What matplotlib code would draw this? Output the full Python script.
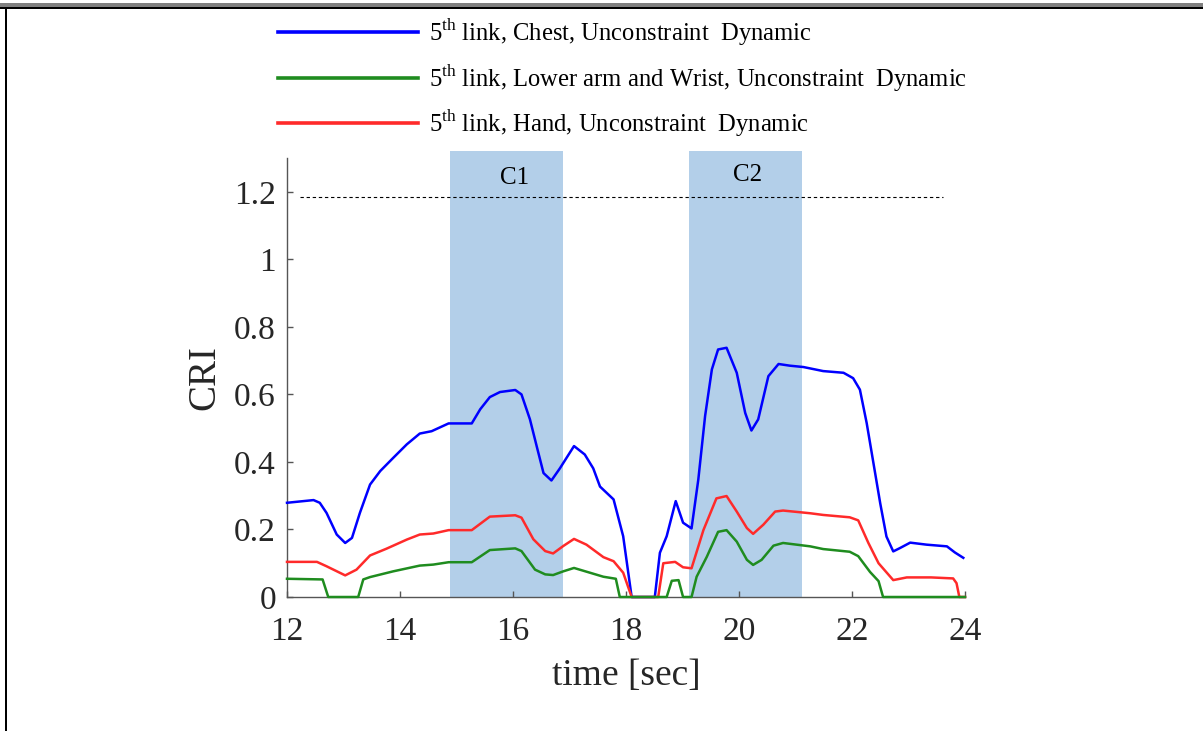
import matplotlib
matplotlib.use("Agg")
import matplotlib.pyplot as plt
from matplotlib.patches import Rectangle

# ── data ────────────────────────────────────────────────────────────────────

t_chest = [12.0, 12.47, 12.58, 12.70, 12.88, 13.03, 13.15, 13.29, 13.47, 13.65,
           13.88, 14.12, 14.35, 14.56, 14.86, 15.27, 15.42, 15.59, 15.77, 16.04,
           16.15, 16.30, 16.42, 16.54, 16.68, 16.83, 17.08, 17.27, 17.42, 17.54,
           17.78, 17.95, 18.10, 18.51, 18.60, 18.72, 18.88, 19.01, 19.16, 19.28,
           19.40, 19.52, 19.63, 19.78, 19.96, 20.11, 20.22, 20.34, 20.52, 20.70,
           20.90, 21.14, 21.49, 21.85, 22.02, 22.14, 22.26, 22.38, 22.50, 22.61,
           22.73, 22.85, 23.03, 23.32, 23.68, 23.82, 23.97]
cri_chest = [0.279, 0.287, 0.279, 0.249, 0.185, 0.160, 0.175, 0.249, 0.333, 0.373,
             0.412, 0.452, 0.484, 0.491, 0.514, 0.514, 0.556, 0.592, 0.607, 0.613,
             0.600, 0.526, 0.446, 0.367, 0.345, 0.381, 0.447, 0.422, 0.381, 0.327,
             0.289, 0.180, 0.0, 0.0, 0.131, 0.180, 0.284, 0.220, 0.203, 0.348,
             0.536, 0.674, 0.733, 0.738, 0.664, 0.545, 0.493, 0.526, 0.654, 0.690,
             0.685, 0.681, 0.669, 0.664, 0.648, 0.614, 0.515, 0.396, 0.277, 0.179,
             0.135, 0.145, 0.161, 0.155, 0.150, 0.132, 0.116]

t_wrist = [12.0, 12.63, 12.73, 13.26, 13.35, 13.47, 13.88, 14.35, 14.59, 14.86,
           15.27, 15.59, 16.04, 16.15, 16.39, 16.57, 16.71, 16.89, 17.08, 17.36,
           17.60, 17.82, 17.89, 18.72, 18.81, 18.93, 19.01, 19.16, 19.25, 19.43,
           19.63, 19.78, 19.96, 20.14, 20.25, 20.40, 20.61, 20.78, 21.26, 21.49,
           21.96, 22.11, 22.32, 22.47, 22.55, 24.0]
cri_wrist = [0.054, 0.052, 0.0, 0.0, 0.052, 0.059, 0.076, 0.093, 0.096, 0.103,
             0.103, 0.139, 0.144, 0.136, 0.081, 0.067, 0.065, 0.076, 0.086, 0.072,
             0.060, 0.054, 0.0, 0.0, 0.048, 0.050, 0.0, 0.0, 0.060, 0.119,
             0.193, 0.198, 0.164, 0.110, 0.095, 0.110, 0.152, 0.160, 0.150, 0.142,
             0.134, 0.121, 0.074, 0.047, 0.0, 0.0]

t_hand = [12.0, 12.53, 12.70, 13.03, 13.23, 13.47, 13.76, 14.12, 14.35, 14.59,
          14.86, 15.27, 15.59, 16.04, 16.15, 16.36, 16.57, 16.71, 16.89, 17.08,
          17.30, 17.60, 17.78, 17.95, 18.10, 18.57, 18.66, 18.87, 19.01, 19.16,
          19.37, 19.60, 19.78, 19.96, 20.14, 20.25, 20.43, 20.64, 20.78, 21.26,
          21.49, 21.96, 22.11, 22.29, 22.47, 22.73, 22.97, 23.40, 23.79, 23.85,
          23.90, 24.0]
cri_hand = [0.104, 0.104, 0.091, 0.064, 0.081, 0.123, 0.143, 0.170, 0.185, 0.188,
            0.198, 0.198, 0.238, 0.242, 0.235, 0.171, 0.136, 0.129, 0.151, 0.172,
            0.155, 0.118, 0.106, 0.072, 0.0, 0.0, 0.100, 0.104, 0.088, 0.085,
            0.198, 0.292, 0.299, 0.253, 0.204, 0.187, 0.214, 0.253, 0.256, 0.248,
            0.243, 0.236, 0.227, 0.160, 0.100, 0.050, 0.058, 0.058, 0.055, 0.041,
            0.0, 0.0]

labels = [r"5$^{\mathrm{th}}$ link, Chest, Unconstraint  Dynamic",
          r"5$^{\mathrm{th}}$ link, Lower arm and Wrist, Unconstraint  Dynamic",
          r"5$^{\mathrm{th}}$ link, Hand, Unconstraint  Dynamic"]

phases = ["C1", "C2"]
phase_start = [14.885, 19.115]
phase_end = [16.885, 21.115]
phase_top = 1.32
phase_label_x = [16.02, 20.15]
phase_label_y = [1.24, 1.25]

threshold = 1.185
threshold_span = [12.23, 23.61]

xticks = [12, 14, 16, 18, 20, 22, 24]
yticks = [0, 0.2, 0.4, 0.6, 0.8, 1.0, 1.2]
ytick_labels = ["0", "0.2", "0.4", "0.6", "0.8", "1", "1.2"]

# ── style ───────────────────────────────────────────────────────────────────

plt.rcParams["font.family"] = ["Liberation Serif", "DejaVu Serif"]
plt.rcParams["mathtext.fontset"] = "custom"
plt.rcParams["mathtext.rm"] = "Liberation Serif"

AX_GREY = "#555555"
TXT = "#262626"

fig = plt.figure(figsize=(12.03, 7.31), dpi=100)
ax = fig.add_axes([287 / 1203, 134 / 731, 678 / 1203, 439 / 731])

# shaded phases
for name, x0, x1, lx, ly in zip(phases, phase_start, phase_end,
                                phase_label_x, phase_label_y):
    ax.fill_between([x0, x1], 0, phase_top, color="#b3cfe9", lw=0,
                    zorder=1, clip_on=False)
    ax.text(lx, ly, name, ha="center", va="center", fontsize=18,
            color="black", zorder=5)

ax.plot(threshold_span, [threshold, threshold], ls=(0, (3, 2.5)), lw=0.8,
        color="black", zorder=4)

h_chest, = ax.plot(t_chest, cri_chest, color="#0000ff", lw=1.8, zorder=3,
                   clip_on=False, label=labels[0])
h_hand, = ax.plot(t_hand, cri_hand, color="#ff2a2a", lw=1.8, zorder=3,
                  clip_on=False, label=labels[2])
h_wrist, = ax.plot(t_wrist, cri_wrist, color="#1f8c1f", lw=1.8, zorder=3.5,
                   clip_on=False, label=labels[1])

ax.set_xlim(12, 24)
ax.set_ylim(0, 1.3)
ax.set_xticks(xticks)
ax.set_yticks(yticks)
ax.set_yticklabels(ytick_labels)

for s in ("top", "right"):
    ax.spines[s].set_visible(False)
for s in ("left", "bottom"):
    ax.spines[s].set_color(AX_GREY)
    ax.spines[s].set_linewidth(1.0)
    ax.spines[s].set_zorder(2)

ax.tick_params(direction="in", length=4, width=1.0, color=AX_GREY,
               labelsize=24, labelcolor=TXT)
ax.tick_params(axis="y", pad=8)
ax.tick_params(axis="x", pad=14)

ax.set_xlabel("time [sec]", fontsize=27, color=TXT, labelpad=8)
ax.set_ylabel("CRI", fontsize=28, color=TXT, labelpad=8)

leg = ax.legend(handles=[h_chest, h_wrist, h_hand], loc="upper left",
                bbox_to_anchor=(278 / 1203, 1 - 17 / 731),
                bbox_transform=fig.transFigure, frameon=False, fontsize=17.7,
                handlelength=5.7, handletextpad=0.45, labelspacing=0.6,
                borderpad=0, borderaxespad=0)
for line in leg.get_lines():
    line.set_linewidth(2.6)

# page frame
W, H = 1203, 731
fig.patches.append(Rectangle((0, 1 - 6.7 / H), 1, 3.4 / H, transform=fig.transFigure,
                             color="#808080", lw=0))
fig.patches.append(Rectangle((0, 1 - 8.7 / H), 1, 2.0 / H, transform=fig.transFigure,
                             color="black", lw=0))
fig.patches.append(Rectangle((5 / W, 0), 2 / W, 1 - 8 / H, transform=fig.transFigure,
                             color="black", lw=0))

fig.savefig("out.png", dpi=100)
